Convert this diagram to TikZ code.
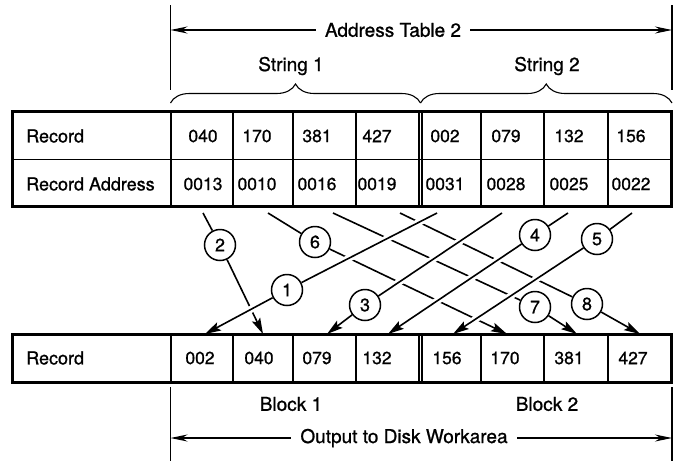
\documentclass[tikz,border=0pt]{standalone}
\usepackage{fontspec}
\setmainfont{TeX Gyre Heros}[FakeBold=0.9]
\usetikzlibrary{arrows.meta,decorations.pathreplacing}
\pgfdeclarelayer{wires}
\pgfsetlayers{wires,main}
\begin{document}
\begin{tikzpicture}[x=1pt,y=-1pt,
  frame/.style={line width=3pt},
  rule/.style={line width=1.2pt},
  guide/.style={line width=1.1pt},
  lbl/.style={font=\fontsize{18}{20}\selectfont, anchor=west, inner sep=0pt},
  num/.style={font=\fontsize{17.5}{20}\selectfont, inner sep=0pt},
  heading/.style={font=\fontsize{19}{22}\selectfont, inner sep=0pt},
  dim/.style={guide, {Stealth[length=17pt,width=7pt]}-{Stealth[length=17pt,width=7pt]}},
  wire/.style={line width=1.6pt},
  tipwire/.style={wire, -{Stealth[length=16pt,width=9pt,inset=3pt]}},
  halo/.style={preaction={draw=white, line width=7pt, -}},
  tag/.style={circle, draw, line width=1.5pt, fill=white, minimum size=31pt,
    inner sep=0pt, font=\fontsize{18}{20}\selectfont},
]
\useasboundingbox (0,0) rectangle (677,461);

% ---- upper table: keys and record addresses
\draw[frame] (12.7,111.7) rectangle (671.7,206.7);
\draw[rule] (12.7,159.3) -- (671.7,159.3);
\foreach \x in {171,233,293,356,419,422,481,544,608}
  \draw[rule] (\x,111.7) -- (\x,206.7);
\node[lbl] (r1) at (26,136) {Record};
\node[lbl] (r2) at (26,184) {Record Address};
\foreach \i/\x/\k/\a in {1/203/040/0013,2/257/170/0010,3/317/381/0016,4/377/427/0019,
                         5/445/002/0031,6/506/079/0028,7/569/132/0025,8/631/156/0022}{
  \node[num] (key\i) at (\x,136) {\k};
  \node[num] (adr\i) at (\x,184) {\a};
}

% ---- lower table: sorted output records
\draw[frame] (12.7,334) rectangle (671.7,382);
\foreach \x in {171,233,293,356,419,422,481,544,608}
  \draw[rule] (\x,334) -- (\x,382);
\node[lbl] (r3) at (26,358) {Record};
\foreach \i/\x/\k in {1/200/002,2/259/040,3/317/079,4/377/132,
                      5/447/156,6/505/170,7/569/381,8/633/427}
  \node[num] (out\i) at (\x,358) {\k};

% ---- dimension line and braces above
\draw[guide] (170.5,5) -- (170.5,90);
\draw[guide] (672,5) -- (672,90);
\draw[dim] (170.5,30) -- (672,30);
\node[heading, fill=white, inner xsep=9pt] (ttl) at (393,30) {Address Table 2};
\draw[guide, decorate, decoration={brace, amplitude=19pt}] (170.5,103) -- (420.5,103);
\draw[guide, decorate, decoration={brace, amplitude=19pt}] (420.5,103) -- (672,103);
\node[heading] (str1) at (291,66) {String 1};
\node[heading] (str2) at (547,66) {String 2};

% ---- dimension line and labels below
\draw[guide] (170.5,387) -- (170.5,461);
\draw[guide] (672,387) -- (672,461);
\node[heading] (blk1) at (291,404) {Block 1};
\node[heading] (blk2) at (547,404) {Block 2};
\draw[dim] (170.5,438) -- (672,438);
\node[heading, fill=white, inner xsep=9pt] (dest) at (404,438) {Output to Disk Workarea};

% ---- step numbers
\foreach \i/\x/\y in {1/287/290,2/220/245,3/365/305,4/535/235,
                      5/597/239,6/315/242,7/535/307,8/587/304}
  \node[tag] (n\i) at (\x,\y) {\i};

% ---- connector ends
\foreach \i/\x in {1/437,2/203,3/502,4/568,5/632,6/268,7/333,8/400}
  \coordinate (u\i) at (\x,213);
\foreach \i/\x in {1/205,2/263,3/327,4/388,5/453,6/507,7/577,8/640}
  \coordinate (v\i) at (\x,334);

% ---- connectors: rightward ones first, leftward ones cross over them
\begin{pgfonlayer}{wires}
\foreach \i in {2,6,7,8}{
  \draw[wire] (u\i) -- (n\i);
  \draw[tipwire] (n\i) -- (v\i);
}
\foreach \i in {1,3,4,5}{
  \draw[wire, halo] (u\i) -- (n\i);
  \draw[tipwire, halo] (n\i) -- (v\i);
}
\end{pgfonlayer}
\end{tikzpicture}
\end{document}
